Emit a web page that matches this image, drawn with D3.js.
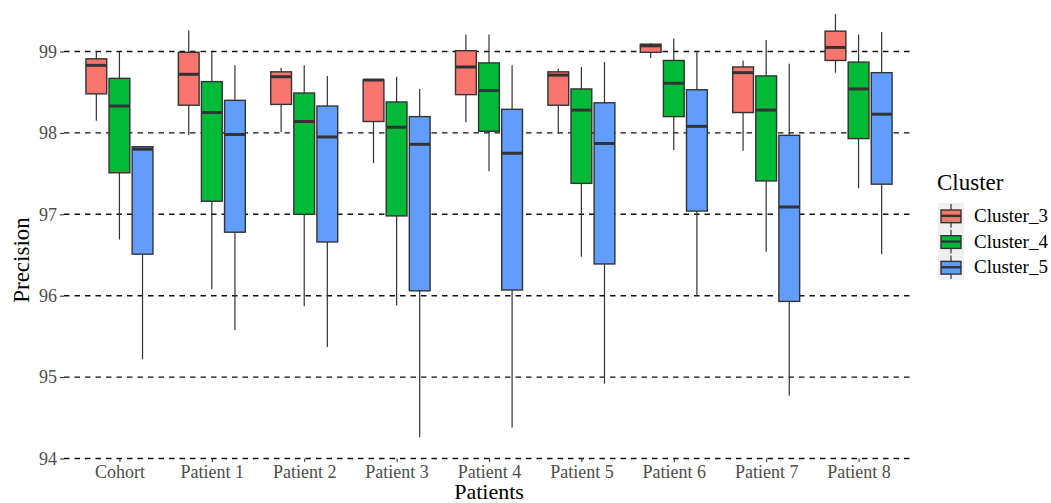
<!DOCTYPE html>
<html><head><meta charset="utf-8">
<script src="https://cdn.jsdelivr.net/npm/d3@7"></script>
<style>body{margin:0;background:#fff}svg{display:block}</style>
</head><body>
<svg id="c" width="1051" height="503"></svg>
<script>
const categories = ["Cohort","Patient 1","Patient 2","Patient 3","Patient 4","Patient 5","Patient 6","Patient 7","Patient 8"];
const clusters = ["Cluster_3","Cluster_4","Cluster_5"];
const colors = ["#F8766D","#00BA38","#619CFF"];
const yTicks = [94,95,96,97,98,99];
// [whiskerLow, q1, median, q3, whiskerHigh] per category
const cluster3 = [
  [98.15,98.48,98.83,98.91,99.00],
  [97.97,98.34,98.72,98.99,99.26],
  [98.01,98.35,98.69,98.75,98.80],
  [97.63,98.14,98.65,98.65,98.65],
  [98.13,98.47,98.81,99.01,99.21],
  [97.99,98.34,98.71,98.75,98.79],
  [98.92,98.99,99.07,99.09,99.10],
  [97.78,98.25,98.74,98.81,98.89],
  [98.74,98.89,99.05,99.25,99.46]
];
const cluster4 = [
  [96.69,97.51,98.33,98.67,99.00],
  [96.08,97.16,98.25,98.63,99.00],
  [95.87,97.00,98.14,98.49,98.83],
  [95.88,96.98,98.07,98.38,98.69],
  [97.53,98.02,98.52,98.86,99.21],
  [96.48,97.38,98.28,98.54,98.81],
  [97.79,98.20,98.61,98.89,99.16],
  [96.54,97.41,98.28,98.70,99.14],
  [97.32,97.93,98.54,98.87,99.21]
];
const cluster5 = [
  [95.22,96.51,97.80,97.83,97.84],
  [95.58,96.78,97.98,98.40,98.83],
  [95.37,96.66,97.95,98.33,98.70],
  [94.26,96.06,97.86,98.20,98.54],
  [94.38,96.07,97.75,98.29,98.83],
  [94.92,96.39,97.87,98.37,98.87],
  [96.00,97.04,98.08,98.53,98.99],
  [94.77,95.93,97.09,97.97,98.85],
  [96.51,97.37,98.23,98.74,99.24]
];
const series = [cluster3, cluster4, cluster5];

const svg = d3.select("#c");
const left = 64, right = 914;
const x = d3.scalePoint().domain(categories).range([left, right]).padding(0.6);
const y = d3.scaleLinear().domain([94, 99]).range([458.5, 51.5]);
const dodgeW = x.step() * 0.75;
const xd = d3.scaleBand().domain(clusters).range([-dodgeW/2, dodgeW/2]);
const bw = xd.bandwidth() * 0.9;
const font = "'Liberation Serif','Times New Roman',serif";

// gridlines
svg.append("g").selectAll("line").data(yTicks).join("line")
  .attr("x1", left).attr("x2", right)
  .attr("y1", d => y(d)).attr("y2", d => y(d))
  .attr("stroke", "#111").attr("stroke-width", 1.4)
  .attr("stroke-dasharray", "5.5,5");

// y axis
const ya = svg.append("g").attr("transform", `translate(${left},0)`)
  .call(d3.axisLeft(y).tickValues(yTicks).tickSize(4).tickPadding(3).tickFormat(d3.format("d")))
  .attr("font-family", font).attr("font-size", 18);
ya.select(".domain").remove();
ya.selectAll(".tick line").attr("stroke", "#333").attr("stroke-width", 1.1);
ya.selectAll(".tick text").attr("fill", "#4d4d4d").style("font-family", font).style("font-size", "18px");

// x axis
const xa = svg.append("g").attr("transform", `translate(0,${y(94)})`)
  .call(d3.axisBottom(x).tickSize(3.5).tickPadding(3))
  .attr("font-family", font).attr("font-size", 18);
xa.select(".domain").remove();
xa.selectAll(".tick line").attr("stroke", "#333").attr("stroke-width", 1.1);
xa.selectAll(".tick text").attr("fill", "#4d4d4d").style("font-family", font).style("font-size", "18px");

// boxes
const stroke = "#333333";
series.forEach((ser, si) => {
  const g = svg.append("g");
  ser.forEach((s, ci) => {
    const cx = x(categories[ci]) + xd(clusters[si]) + xd.bandwidth()/2;
    const [lo, q1, med, q3, hi] = s;
    g.append("line").attr("x1", cx).attr("x2", cx).attr("y1", y(hi)).attr("y2", y(q3))
      .attr("stroke", stroke).attr("stroke-width", 1.2);
    g.append("line").attr("x1", cx).attr("x2", cx).attr("y1", y(q1)).attr("y2", y(lo))
      .attr("stroke", stroke).attr("stroke-width", 1.2);
    g.append("rect").attr("x", cx - bw/2).attr("width", bw)
      .attr("y", y(q3)).attr("height", Math.max(0.5, y(q1) - y(q3)))
      .attr("fill", colors[si]).attr("stroke", stroke).attr("stroke-width", 1.4);
    g.append("line").attr("x1", cx - bw/2).attr("x2", cx + bw/2).attr("y1", y(med)).attr("y2", y(med))
      .attr("stroke", stroke).attr("stroke-width", 3);
  });
});

// axis titles
svg.append("text").attr("transform", `translate(29,${(y(94)+y(99))/2+5}) rotate(-90)`)
  .attr("text-anchor", "middle").style("font-family", font).style("font-size", "23px").attr("fill", "#000")
  .text("Precision");
svg.append("text").attr("x", (left+right)/2).attr("y", 499)
  .attr("text-anchor", "middle").style("font-family", font).style("font-size", "22px").attr("fill", "#000")
  .text("Patients");

// legend
const lg = svg.append("g");
lg.append("text").attr("x", 937).attr("y", 190).style("font-family", font).style("font-size", "23px").text("Cluster");
const keyH = 25.7, keyTop = 203, keyX = 938, keyW = 26;
lg.append("rect").attr("x", keyX).attr("y", keyTop).attr("width", keyW).attr("height", keyH*3).attr("fill", "#f0f0f0");
clusters.forEach((c, i) => {
  const ky = keyTop + i*keyH, kcx = keyX + keyW/2;
  lg.append("line").attr("x1", kcx).attr("x2", kcx).attr("y1", ky + 1).attr("y2", ky + keyH - 1)
    .attr("stroke", stroke).attr("stroke-width", 1.2);
  lg.append("rect").attr("x", keyX + 3).attr("y", ky + 7).attr("width", keyW - 6).attr("height", keyH - 13)
    .attr("fill", colors[i]).attr("stroke", stroke).attr("stroke-width", 1.4);
  lg.append("line").attr("x1", keyX + 3).attr("x2", keyX + keyW - 3).attr("y1", ky + keyH/2).attr("y2", ky + keyH/2)
    .attr("stroke", stroke).attr("stroke-width", 2.4);
  lg.append("text").attr("x", 974).attr("y", ky + keyH/2 + 6).style("font-family", font).style("font-size", "19px")
    .attr("fill", "#000").text(c);
});
</script>
</body></html>
